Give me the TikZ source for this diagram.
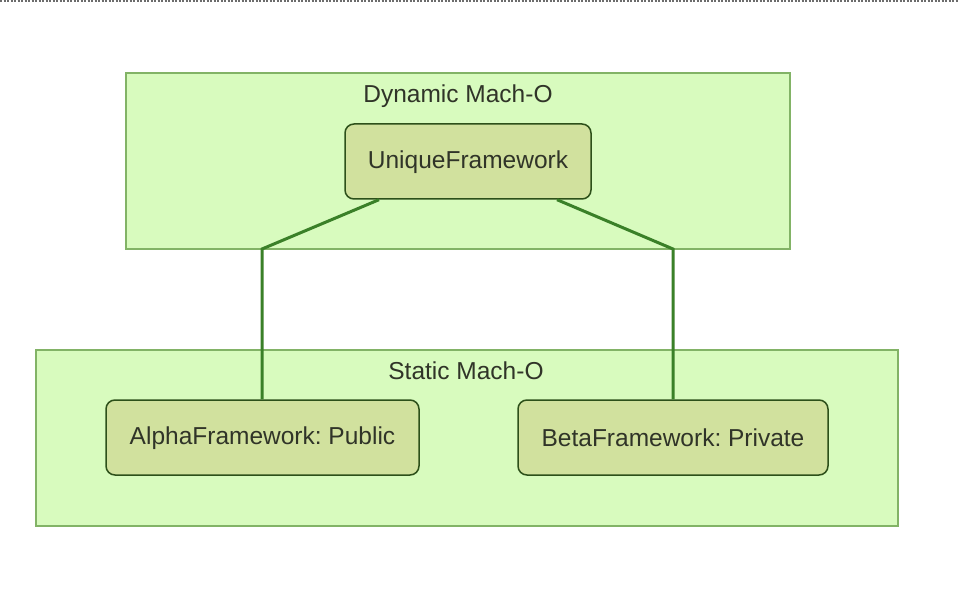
\documentclass[tikz,border=0pt]{standalone}
\usepackage{fontspec}
\setmainfont{Liberation Sans}
\frenchspacing
\definecolor{boxfill}{RGB}{216,251,190}
\definecolor{boxline}{RGB}{130,179,102}
\definecolor{nodefill}{RGB}{209,225,158}
\definecolor{nodeline}{RGB}{45,80,26}
\definecolor{linkcol}{RGB}{58,128,40}
\definecolor{txt}{RGB}{48,52,40}
\begin{document}
\begin{tikzpicture}[x=1pt,y=-1pt,
  container/.style={draw=boxline,fill=boxfill,line width=1.5pt},
  fw/.style={draw=nodeline,fill=nodefill,line width=1.5pt,rounded corners=9pt},
  lbl/.style={text=txt,font=\fontsize{24.5}{28}\selectfont,inner sep=0pt},
  link/.style={draw=linkcol,line width=3pt}]
\useasboundingbox (0,0) rectangle (958,596);
\draw[gray!85!black,line width=2pt,dash pattern=on 2pt off 1.5pt] (0,1) -- (958,1);
% containers
\draw[container] (126,73) rectangle (790,249);
\node[lbl] (dyn) at (458,96) {Dynamic Mach-O};
\draw[container] (36,350) rectangle (898,526);
\node[lbl] (sta) at (466,371) {Static Mach-O};
% frameworks
\draw[fw] (345,124) rectangle (591,199);
\node[lbl] (uni) at (468,162) {UniqueFramework};
\draw[fw] (106,400) rectangle (419,475);
\node[lbl] (alpha) at (262.5,438) {AlphaFramework: Public};
\draw[fw] (518,400) rectangle (828,475);
\node[lbl] (beta) at (673,438) {BetaFramework: Private};
\coordinate (u1) at (379,199.7);
\coordinate (u2) at (557,199.7);
\coordinate (a1) at (262,399.3);
\coordinate (b1) at (673,399.3);
\draw[link] (u1) -- (262,249) -- (a1);
\draw[link] (u2) -- (673,249) -- (b1);
\end{tikzpicture}
\end{document}
